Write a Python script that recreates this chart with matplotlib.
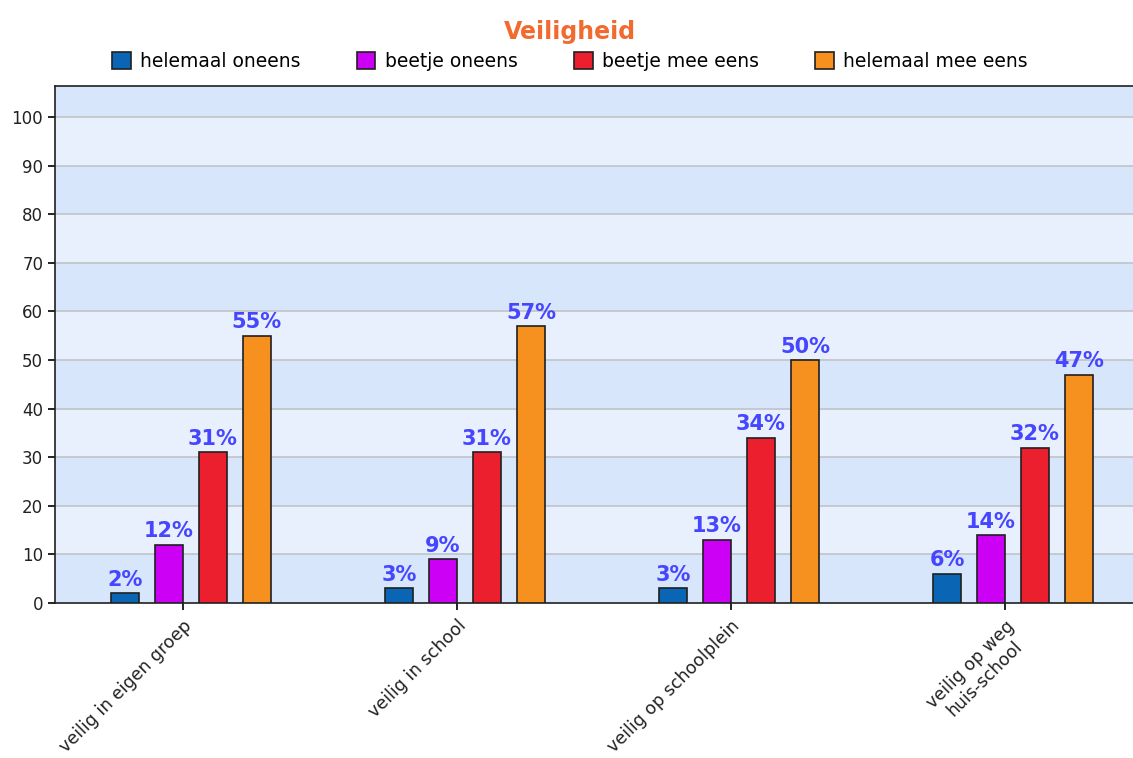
import numpy as np
import matplotlib.pyplot as plt
from matplotlib.patches import Patch

categorieen = ["veilig in eigen groep", "veilig in school",
               "veilig op schoolplein", "veilig op weg\nhuis-school"]
reeksen = ["helemaal oneens", "beetje oneens", "beetje mee eens", "helemaal mee eens"]
waarden = {
    "helemaal oneens": [2, 3, 3, 6],
    "beetje oneens": [12, 9, 13, 14],
    "beetje mee eens": [31, 31, 34, 32],
    "helemaal mee eens": [55, 57, 50, 47],
}
kleuren = ["#0a66b4", "#cc00f5", "#ec1f2f", "#f6901e"]
y_ticks = list(range(0, 101, 10))

fig = plt.figure(figsize=(11.33, 7.58), dpi=100)
ax = fig.add_axes([0.0485, 0.2045, 0.9515, 0.682])

# achtergrond banden
for i, lo in enumerate(range(0, 110, 10)):
    ax.axhspan(lo, lo + 10, color="#d8e6fc" if i % 2 == 0 else "#e8f0fe", zorder=0, lw=0)
for y in y_ticks[1:]:
    ax.axhline(y, color="#c0c4c8", lw=1.2, zorder=1)

x = np.arange(len(categorieen))
stap = 0.1606
breedte = 0.102
for i, (naam, kleur) in enumerate(zip(reeksen, kleuren)):
    pos = x + (i - 1.5) * stap + 0.029
    vals = waarden[naam]
    ax.bar(pos, vals, width=breedte, color=kleur, edgecolor="#202020", lw=1.2, zorder=3)
    for px, v in zip(pos, vals):
        ax.text(px, v + 0.7, f"{v}%", ha="center", va="bottom", color="#4646ff",
                fontsize=15, fontweight="bold", family="DejaVu Sans", zorder=4)

ax.set_xlim(-0.467, 3.467)
ax.set_ylim(0, 106.4)
ax.set_yticks(y_ticks)
ax.set_yticklabels([str(t) for t in y_ticks], fontsize=12, color="#222222")
ax.set_xticks(x)
ax.set_xticklabels(categorieen, rotation=45, ha="right", va="top",
                   rotation_mode="anchor", fontsize=12.5, color="#222222",
                   multialignment="center")
ax.tick_params(axis="both", length=5, width=1.2, direction="out")
ax.tick_params(axis="x", pad=5)
for s in ["left", "bottom", "top"]:
    ax.spines[s].set_color("#202020")
    ax.spines[s].set_linewidth(1.2)
ax.spines["right"].set_visible(False)

fig.text(0.503, 0.958, "Veiligheid", ha="center", va="center", fontsize=17,
         fontweight="bold", color="#f26b2e", family="DejaVu Sans")

handles = [Patch(facecolor=k, edgecolor="#202020", lw=1.2) for k in kleuren]
fig.legend(handles, reeksen, loc="center", bbox_to_anchor=(0.503, 0.919), ncol=4,
           frameon=False, fontsize=13.5, handlelength=1.0, handleheight=1.0,
           handletextpad=0.5, columnspacing=3.0)

fig.savefig("out.png", dpi=100)
